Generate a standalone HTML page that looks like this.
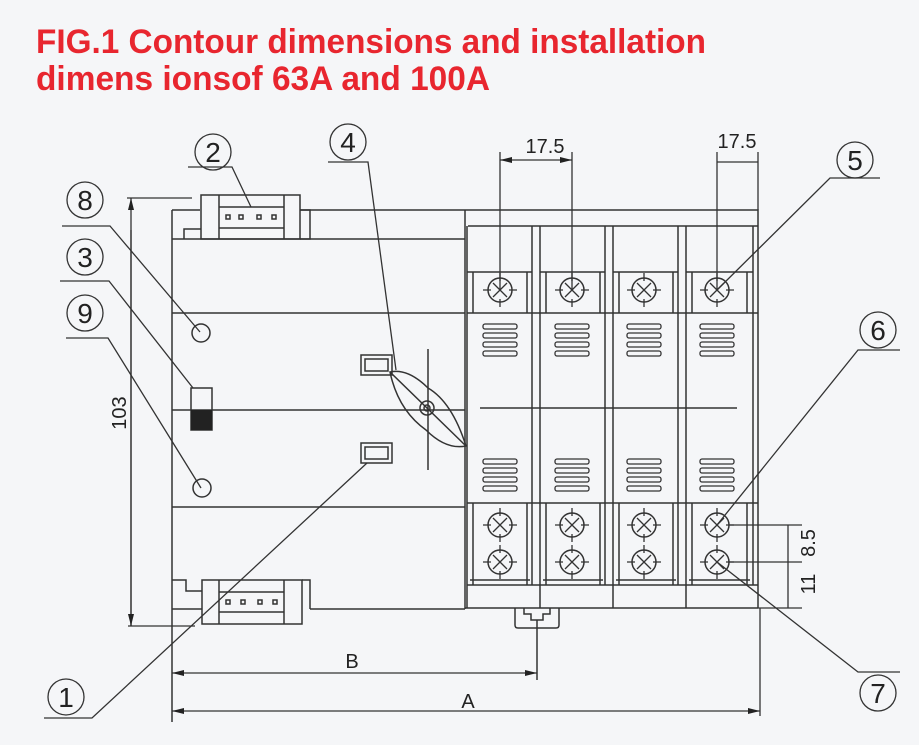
<!DOCTYPE html>
<html><head><meta charset="utf-8"><style>
html,body{margin:0;padding:0;background:#f5f6f8;}
svg{display:block;}
text{font-family:"Liberation Sans",sans-serif;}
</style></head><body>
<svg width="919" height="745" viewBox="0 0 919 745" xmlns="http://www.w3.org/2000/svg">
<defs>
<g id="scr"><circle r="12" fill="none" stroke="#333" stroke-width="1.5"/><path d="M-7,-7L7,7M-7,7L7,-7M-17,0H-9M9,0H17M0,-17V-9M0,9V17" stroke="#333" stroke-width="1.3"/></g>
<g id="vent" fill="none" stroke="#333" stroke-width="1.3"><rect x="-17" y="0" width="34" height="5" rx="2"/><rect x="-17" y="9" width="34" height="5" rx="2"/><rect x="-17" y="18" width="34" height="5" rx="2"/><rect x="-17" y="27" width="34" height="5" rx="2"/></g>
<marker id="ar" viewBox="0 0 12 6" refX="12" refY="3" markerWidth="12" markerHeight="6" orient="auto-start-reverse" markerUnits="userSpaceOnUse"><path d="M0,0L12,3L0,6z" fill="#222"/></marker>
</defs>
<rect width="919" height="745" fill="#f5f6f8"/>
<text x="36" y="53" font-size="34" font-weight="bold" fill="#e8262f" textLength="670" lengthAdjust="spacingAndGlyphs" style="font-family:'Liberation Sans Narrow','Liberation Sans',sans-serif">FIG.1 Contour dimensions and installation</text>
<text x="36" y="90" font-size="34" font-weight="bold" fill="#e8262f" textLength="454" lengthAdjust="spacingAndGlyphs" style="font-family:'Liberation Sans Narrow','Liberation Sans',sans-serif">dimens ionsof 63A and 100A</text>

<g fill="none" stroke="#333" stroke-width="1.5">
<path d="M172,210V722 M172,239H465 M172,313H465 M172,410H465 M172,507H465 M310,609H465"/>
<path d="M300,210H758V608 M468,226H758 M465,210V609 M172,210H200"/>
<path d="M465,608H758"/>
<rect x="201" y="195" width="99" height="44"/>
<path d="M219,195V239 M284,195V239 M219,207H284 M219,228H284 M184,239V229H201 M300,210H310V239H300"/>
<rect x="226" y="215" width="4" height="4"/><rect x="239" y="215" width="4" height="4"/><rect x="257" y="215" width="4" height="4"/><rect x="272" y="215" width="4" height="4"/>
<rect x="202" y="580" width="100" height="44"/>
<path d="M219,580V624 M284,580V624 M219,592H284 M219,612H284 M172,580H186V591H202 M172,609H202 M302,580H310V609"/>
<rect x="226" y="600" width="4" height="4"/><rect x="241" y="600" width="4" height="4"/><rect x="258" y="600" width="4" height="4"/><rect x="273" y="600" width="4" height="4"/>
<circle cx="201" cy="333" r="9"/><circle cx="202" cy="488" r="9"/>
<rect x="191" y="388" width="21" height="42"/>
<rect x="361" y="355" width="31" height="20"/><rect x="365" y="359" width="23" height="12"/>
<rect x="361" y="443" width="31" height="20"/><rect x="365" y="447" width="23" height="12"/>
<path d="M428,349V470"/>
<path d="M390,372 Q408,368 428,388 Q452,402 466,446 Q446,450 426,430 Q398,410 390,372Z"/>
<path d="M390,372L466,446"/>
<circle cx="427" cy="408" r="7"/><circle cx="427" cy="408" r="3"/>
<path d="M467,226V608 M532,226V585 M540,226V608 M605,226V585 M613,226V608 M678,226V585 M686,226V608 M753,226V585"/>
<path d="M473,272V313 M527,272V313 M546,272V313 M600,272V313 M619,272V313 M673,272V313 M692,272V313 M747,272V313"/>
<path d="M467,272H532 M540,272H605 M613,272H678 M686,272H753 M467,313H758 M467,503H758"/>
<path d="M473,503V585 M527,503V585 M546,503V585 M600,503V585 M619,503V585 M673,503V585 M692,503V585 M747,503V585"/>
<path d="M467,585H758 M470,580H530 M543,580H603 M616,580H676 M689,580H750"/>
<path d="M480,408H737"/>
<path d="M515,608V625Q515,628 518,628H556Q559,628 559,625V608 M524,608V614H531V620H543V614H550V608 M537,620V680"/>
</g>
<rect x="191" y="410" width="21" height="20" fill="#222"/>
<g>
<use href="#scr" x="500" y="290"/><use href="#scr" x="572" y="290"/><use href="#scr" x="644" y="290"/><use href="#scr" x="717" y="290"/>
<use href="#scr" x="500" y="525"/><use href="#scr" x="572" y="525"/><use href="#scr" x="644" y="525"/><use href="#scr" x="717" y="525"/>
<use href="#scr" x="500" y="562"/><use href="#scr" x="572" y="562"/><use href="#scr" x="644" y="562"/><use href="#scr" x="717" y="562"/>
<use href="#vent" x="500" y="324"/><use href="#vent" x="572" y="324"/><use href="#vent" x="644" y="324"/><use href="#vent" x="717" y="324"/>
<use href="#vent" x="500" y="459"/><use href="#vent" x="572" y="459"/><use href="#vent" x="644" y="459"/><use href="#vent" x="717" y="459"/>
</g>

<g fill="none" stroke="#333" stroke-width="1.3">
<path d="M127,198H192 M128,626H195"/>
<path d="M131,626V198" marker-end="url(#ar)"/>
<path d="M131,230V626" marker-end="url(#ar)"/>
<path d="M500,152V290 M572,152V290 M717,152V290 M758,152V210"/>
<path d="M525,160H500" marker-end="url(#ar)"/><path d="M547,160H572" marker-end="url(#ar)"/>
<path d="M525,160H547 M717,162H758"/>
<path d="M350,673H172" marker-end="url(#ar)"/><path d="M350,673H537" marker-end="url(#ar)"/>
<path d="M460,711H172" marker-end="url(#ar)"/><path d="M460,711H760" marker-end="url(#ar)"/>
<path d="M760,608V716"/>
<path d="M729,525H802 M729,562H802 M758,608H802 M788,525V608"/>
</g>
<g font-size="20" fill="#222">
<text x="545" y="153" text-anchor="middle">17.5</text>
<text x="737" y="148" text-anchor="middle">17.5</text>
<text x="352" y="668" text-anchor="middle">B</text>
<text x="468" y="708" text-anchor="middle">A</text>
<text transform="translate(126,413) rotate(-90)" text-anchor="middle">103</text>
<text transform="translate(815,543) rotate(-90)" text-anchor="middle">8.5</text>
<text transform="translate(815,584) rotate(-90)" text-anchor="middle">11</text>
</g>

<g fill="none" stroke="#333" stroke-width="1.3">
<circle cx="85" cy="200" r="18"/><circle cx="85" cy="257" r="18"/><circle cx="85" cy="313" r="18"/>
<circle cx="213" cy="152" r="18"/><circle cx="348" cy="142" r="18"/><circle cx="855" cy="160" r="18"/>
<circle cx="878" cy="330" r="18"/><circle cx="878" cy="693" r="18"/><circle cx="66" cy="697" r="18"/>
<path d="M62,226H110L200,332"/>
<path d="M60,281H109L193,388"/>
<path d="M66,338H108L201,488"/>
<path d="M188,167H232L251,207"/>
<path d="M328,162H368L396,370"/>
<path d="M880,178H830L717,290"/>
<path d="M900,350H858L717,525"/>
<path d="M900,672H858L717,562"/>
<path d="M44,718H92L367,463"/>
</g>
<g font-size="28" fill="#222" text-anchor="middle">
<text x="85" y="210">8</text><text x="85" y="267">3</text><text x="85" y="323">9</text>
<text x="213" y="162">2</text><text x="348" y="152">4</text><text x="855" y="170">5</text>
<text x="878" y="340">6</text><text x="878" y="703">7</text><text x="66" y="707">1</text>
</g>
</svg>
</body></html>
